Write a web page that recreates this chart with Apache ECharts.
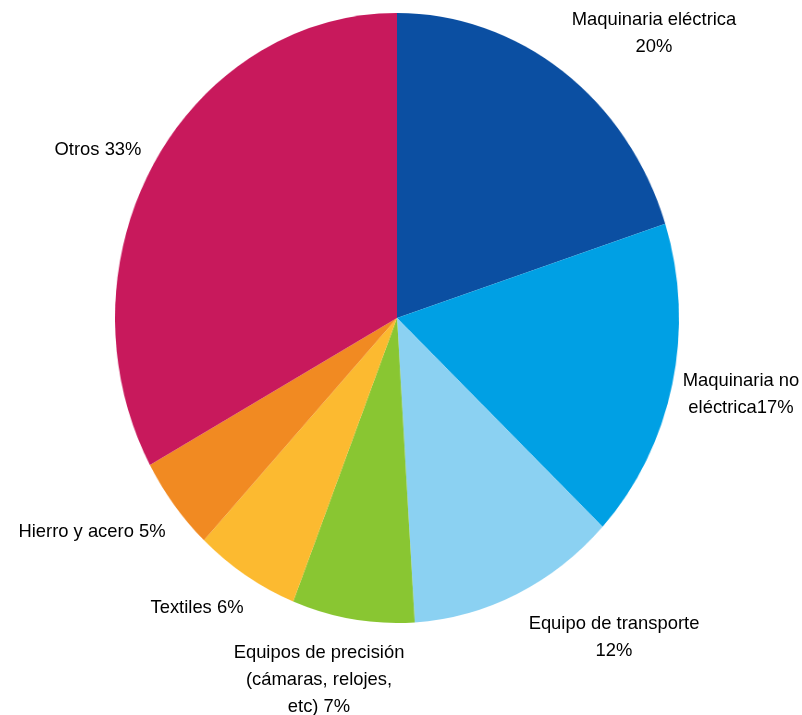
<!DOCTYPE html>
<html>
<head>
<meta charset="utf-8">
<script src="https://cdn.jsdelivr.net/npm/echarts@6/dist/echarts.min.js"></script>
<style>
  html, body { margin: 0; padding: 0; background: #fff; }
  .wrap { position: relative; width: 802px; height: 715px; }
  .layer { position: absolute; left: 0; top: 0; width: 802px; height: 715px; }
  /* la torta original está ligeramente achatada en horizontal */
  #pie-chart { transform: scaleX(0.9246); transform-origin: 397px 318px; }
</style>
</head>
<body>
<div class="wrap">
  <div id="pie-chart" class="layer"></div>
  <div id="label-chart" class="layer"></div>
</div>
<script>
// datos
const categories = [
  'Maquinaria eléctrica',
  'Maquinaria no eléctrica',
  'Equipo de transporte',
  'Equipos de precisión (cámaras, relojes, etc)',
  'Textiles',
  'Hierro y acero',
  'Otros'
]
const values = [20, 17, 12, 7, 6, 5, 33]

// textos de etiqueta tal como aparecen (con saltos de línea)
const labelTexts = [
  'Maquinaria eléctrica\n{v}%',
  'Maquinaria no\neléctrica{v}%',
  'Equipo de transporte\n{v}%',
  'Equipos de precisión\n(cámaras, relojes,\netc) {v}%',
  'Textiles {v}%',
  'Hierro y acero {v}%',
  'Otros {v}%'
]

const colors = ['#0b4fa2', '#00a0e4', '#8bd1f2', '#89c632', '#fcba30', '#f18a22', '#c8195c']

// posición de cada etiqueta (centro del bloque de texto)
const labelPos = [
  [654, 33], [741, 394], [614, 637], [319, 680], [197, 608], [92, 532], [98, 150]
]

const seriesData = categories.map((name, i) => ({ name, value: values[i] }))

const pieBase = {
  type: 'pie',
  center: [397, 318],
  radius: 305,
  startAngle: 90,
  clockwise: true,
  avoidLabelOverlap: false,
  silent: true,
  emphasis: { disabled: true },
  data: seriesData
}

// torta
const pieChart = echarts.init(document.getElementById('pie-chart'))
pieChart.setOption({
  animation: false,
  color: colors,
  series: [{
    ...pieBase,
    itemStyle: { borderWidth: 0 },
    label: { show: false },
    labelLine: { show: false }
  }]
})

// etiquetas (misma serie, transparente)
const labelChart = echarts.init(document.getElementById('label-chart'))
labelChart.setOption({
  animation: false,
  series: [{
    ...pieBase,
    itemStyle: { color: 'transparent' },
    label: {
      show: true,
      position: 'outside',
      color: '#000',
      fontSize: 18.4,
      lineHeight: 27,
      fontFamily: '"Liberation Sans", Arial, sans-serif',
      align: 'center',
      formatter: p => labelTexts[p.dataIndex].replace('{v}', p.value)
    },
    labelLine: { show: false },
    labelLayout: p => ({
      x: labelPos[p.dataIndex][0],
      y: labelPos[p.dataIndex][1],
      align: 'center',
      verticalAlign: 'middle'
    })
  }]
})
</script>
</body>
</html>
